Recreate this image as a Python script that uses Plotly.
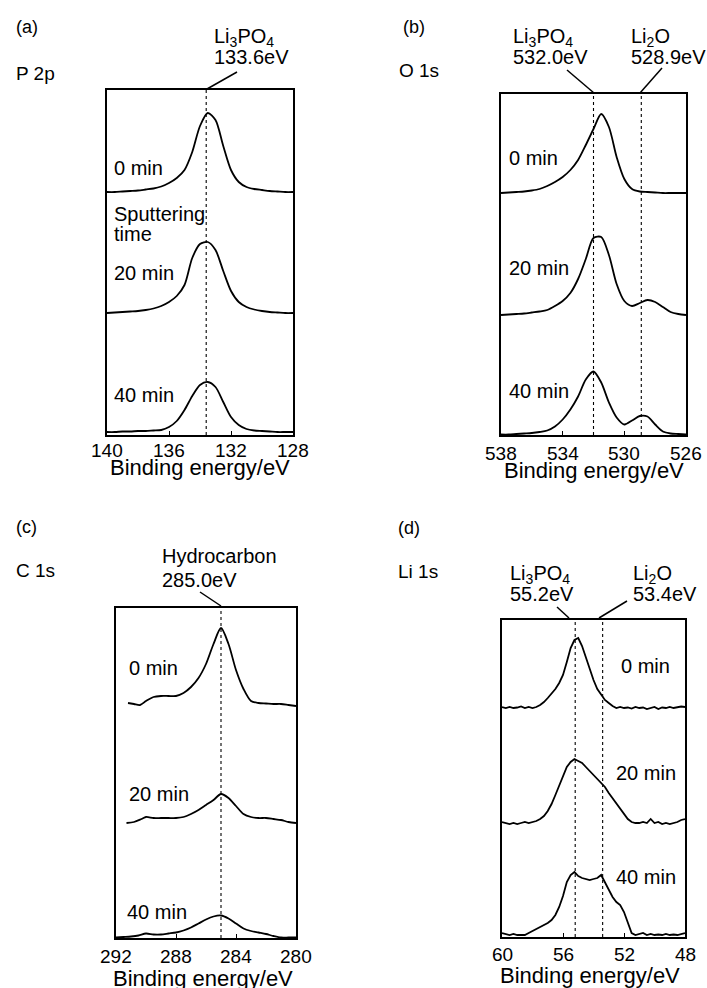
import plotly.graph_objects as go

W, H = 707, 988
FONT = "Liberation Sans, Arial, sans-serif"

# ---------------- data (intensity above each trace's own baseline, a.u.) ----------------
# (a) P 2p
p2p_energy = [140.0, 139.5, 139.0, 138.5, 138.0, 137.5, 137.0, 136.5, 136.0, 135.5, 135.0, 134.5, 134.0,
              133.5, 133.0, 132.5, 132.0, 131.5, 131.0, 130.5, 130.0, 129.5, 129.0, 128.5, 128.0]
p2p_0min = [0, 0, 0.5, 1, 1.5, 2.5, 3.5, 5.5, 9, 14, 22, 40, 66, 79, 72, 46, 22, 10, 5, 3, 2, 1, 0.5, 0, 0]
p2p_20min = [0, 0.5, 1, 1.5, 2, 3, 4.5, 7, 11, 17, 28, 55, 69, 71, 63, 42, 22, 11, 6, 3.5, 2, 1, 0.5, 0, 0]
p2p_40min = [0, 0, 0.5, 0.5, 1, 1, 1.5, 2, 5, 11, 22, 36, 47, 50, 45, 30, 15, 7, 3, 1.5, 1, 0.5, 0, 0, 0]

# (b) O 1s
o1s_energy = [538.0, 537.5, 537.0, 536.5, 536.0, 535.5, 535.0, 534.5, 534.0, 533.5, 533.0, 532.5, 532.0,
              531.5, 531.0, 530.5, 530.0, 529.5, 529.0, 528.5, 528.0, 527.5, 527.0, 526.5, 526.0]
o1s_0min = [0, 0.5, 1, 1.5, 2.5, 4, 7, 11, 16, 23, 33, 48, 64, 79, 66, 36, 14, 4, 1.5, 1, 0.5, 0, 0, 0, 0]
o1s_20min = [0, 0.5, 1, 1.5, 2.5, 3.5, 5, 9, 14, 22, 36, 56, 77, 78, 60, 31, 14, 9, 12, 15, 13, 8, 3, 1, 0]
o1s_40min = [0, 0, 0.5, 1, 1.5, 2.5, 4, 8, 15, 25, 38, 55, 63, 52, 32, 17, 10, 14, 18.5, 18, 10, 3, 1, 0.5, 0]

# (c) C 1s
c1s_0min_energy = [291.2, 290.8, 290.4, 290.0, 289.5, 289.0, 288.5, 288.0, 287.5, 287.0, 286.5, 286.0,
                   285.5, 285.0, 284.5, 284.0, 283.5, 283.0, 282.5, 282.0, 281.5, 281.0, 280.5, 280.0]
c1s_0min = [3, 2, 1, 5, 9, 10, 10, 10, 13, 19, 28, 42, 62, 78, 62, 36, 17, 5, 3, 2.5, 2, 2, 1, 0]
c1s_20min_energy = [291.3, 290.8, 290.3, 290.0, 289.5, 289.0, 288.5, 288.0, 287.5, 287.0, 286.5, 286.0,
                    285.5, 285.0, 284.5, 284.0, 283.5, 283.0, 282.5, 282.0, 281.5, 281.0, 280.5, 280.0]
c1s_20min = [0, 1, 4, 6, 5, 5, 5, 5, 6, 9, 13, 18, 23, 29, 25, 17, 9, 6, 5, 5, 4, 3, 1, 0]
c1s_40min_energy = [292.0, 291.5, 291.0, 290.5, 290.0, 289.5, 289.0, 288.5, 288.0, 287.5, 287.0, 286.5, 286.0,
                    285.5, 285.0, 284.5, 284.0, 283.5, 283.0, 282.5, 282.0, 281.5, 281.0, 280.5, 280.0]
c1s_40min = [0, 0.5, 1, 2, 4, 3, 3, 4, 5, 7, 10, 14, 18, 21, 22, 19, 14, 9, 6.5, 5, 3.5, 1.5, 0, 0, 0]

# (d) Li 1s
li1s_energy = [60.0, 59.75, 59.5, 59.25, 59.0, 58.75, 58.5, 58.25, 58.0, 57.75, 57.5, 57.25, 57.0, 56.75,
               56.5, 56.25, 56.0, 55.75, 55.5, 55.25, 55.0, 54.75, 54.5, 54.25, 54.0, 53.75, 53.5, 53.25,
               53.0, 52.75, 52.5, 52.25, 52.0, 51.75, 51.5, 51.25, 51.0, 50.75, 50.5, 50.25, 50.0, 49.75,
               49.5, 49.25, 49.0, 48.75, 48.5, 48.25, 48.0]
li1s_0min = [1, 0, 1, 0, 0.5, 1.5, 0, 1, 0, 1, 3, 6, 10, 14, 19, 25, 33, 46, 60, 68, 70, 62, 50, 38, 28,
             19, 13, 8, 5, 2, 0, 1, 0, 0.5, -0.5, 1, 0, 0.5, -1, 0, 1, -1, 0.5, 0, 1, 0, 0.5, 1.5, 1]
li1s_20min = [1, 0, -1, 0, -1, 0, 1, 0, 1, 2, 4, 7, 12, 19, 28, 38, 48, 56, 61, 64, 62, 60, 56, 52, 48,
              45, 41, 36, 30, 25, 20, 15, 10, 4, 1, 0, 0, 1, 0, 4, 0, 1, -1, 0, -1, 0, 1, 3, 4]
li1s_40min = [2, 1, 0, 1, 0, 0, 0, 2, 4, 6, 8, 10, 12, 15, 20, 28, 39, 53, 60, 63, 59, 57, 56, 55, 56,
              57, 60, 53, 46, 38, 33, 30, 23, 12, 2, 0, 1, 2, 0, 1, 0, 0.5, 0, 1, 0, 0.5, 0, 1, 2]

p2p_ticks = [140, 136, 132, 128]
o1s_ticks = [538, 534, 530, 526]
c1s_ticks = [292, 288, 284, 280]
li1s_ticks = [60, 56, 52, 48]

time_labels = ["0 min", "20 min", "40 min"]
axis_title = "Binding energy/eV"

# ---------------- layout helpers ----------------
def PX(x):
    return x / W

def PY(y):
    return 1 - y / H

fig = go.Figure()

panels = [
    dict(k="", xd=(107, 293), yd=(90, 435), xr=(140, 128), ticks=p2p_ticks, tly=450,
         offs=[243, 122, 3],
         spectra=[(p2p_energy, p2p_0min), (p2p_energy, p2p_20min), (p2p_energy, p2p_40min)],
         shape="spline", lines=[133.6]),
    dict(k="2", xd=(501, 686), yd=(94, 435), xr=(538, 526), ticks=o1s_ticks, tly=453,
         offs=[242, 120, 0.5],
         spectra=[(o1s_energy, o1s_0min), (o1s_energy, o1s_20min), (o1s_energy, o1s_40min)],
         shape="spline", lines=[532.0, 528.9]),
    dict(k="3", xd=(116, 296), yd=(608, 938), xr=(292, 280), ticks=c1s_ticks, tly=956,
         offs=[232, 115, 0.5],
         spectra=[(c1s_0min_energy, c1s_0min), (c1s_20min_energy, c1s_20min), (c1s_40min_energy, c1s_40min)],
         shape="spline", lines=[285.0]),
    dict(k="4", xd=(502, 685), yd=(620, 937), xr=(60, 48), ticks=li1s_ticks, tly=954,
         offs=[229, 114, 2],
         spectra=[(li1s_energy, li1s_0min), (li1s_energy, li1s_20min), (li1s_energy, li1s_40min)],
         shape="linear", lines=[55.2, 53.4]),
]

shapes = []
annots = []

def ann(text, x, y, xanchor="left", size=20):
    annots.append(dict(text=text, x=PX(x), y=PY(y), xref="paper", yref="paper",
                       xanchor=xanchor, yanchor="middle", showarrow=False,
                       font=dict(family=FONT, size=size, color="black")))

for p in panels:
    k = p["k"]
    hgt = p["yd"][1] - p["yd"][0]
    for (ex, ey), off in zip(p["spectra"], p["offs"]):
        fig.add_trace(go.Scatter(
            x=ex, y=[v + off for v in ey], mode="lines",
            line=dict(color="black", width=1.8, shape=p["shape"], smoothing=0.8),
            xaxis="x" + k, yaxis="y" + k, showlegend=False, hoverinfo="skip"))
    fig.layout["xaxis" + k] = dict(
        domain=[PX(p["xd"][0]), PX(p["xd"][1])], range=list(p["xr"]), anchor="y" + k,
        tickvals=p["ticks"], showticklabels=False,
        ticks="inside", ticklen=4, tickwidth=1, tickcolor="black",
        showline=True, linecolor="black", linewidth=1.5, mirror=True,
        showgrid=False, zeroline=False, fixedrange=True)
    fig.layout["yaxis" + k] = dict(
        domain=[PY(p["yd"][1]), PY(p["yd"][0])], range=[0, hgt], anchor="x" + k,
        showline=True, linecolor="black", linewidth=1.5, mirror=True,
        showticklabels=False, ticks="", showgrid=False, zeroline=False, fixedrange=True)
    for e in p["lines"]:
        shapes.append(dict(type="line", xref="x" + k, yref="y" + k + " domain",
                           x0=e, x1=e, y0=0, y1=1,
                           line=dict(color="black", width=1.1, dash="dot")))
    # tick labels placed on the data axis
    for t in p["ticks"]:
        annots.append(dict(text=str(t), x=t, xref="x" + k, y=PY(p["tly"]), yref="paper",
                           xanchor="center", yanchor="middle", showarrow=False,
                           font=dict(family=FONT, size=19, color="black")))

# leader lines (pixel positions of the callout strokes)
leaders = [
    ((207, 89), (237, 72)),
    ((594, 93), (567, 70)),
    ((640, 93), (662, 68)),
    ((221, 606), (200, 592)),
    ((569, 618), (557, 607)),
    ((599, 618), (627, 601)),
]
for (x0, y0), (x1, y1) in leaders:
    shapes.append(dict(type="line", xref="paper", yref="paper",
                       x0=PX(x0), y0=PY(y0), x1=PX(x1), y1=PY(y1),
                       line=dict(color="black", width=1.5)))

# panel letters and core levels
ann("(a)", 14, 27, size=18); ann("P 2p", 14, 74, size=19)
ann("(b)", 401, 27, size=18); ann("O 1s", 397, 71, size=19)
ann("(c)", 14, 527, size=18); ann("C 1s", 14, 570, size=19)
ann("(d)", 396, 528, size=18); ann("Li 1s", 396, 571, size=19)

# peak callouts
CS = 20
ann("Li<sub>3</sub>PO<sub>4</sub>", 212, 37, size=CS); ann("133.6eV", 212, 57.5, size=CS)
ann("Li<sub>3</sub>PO<sub>4</sub>", 511, 37, size=CS); ann("532.0eV", 511, 57.5, size=CS)
ann("Li<sub>2</sub>O", 629, 37, size=CS); ann("528.9eV", 629, 57.5, size=CS)
ann("Hydrocarbon", 160, 556, size=CS); ann("285.0eV", 160, 580, size=CS)
ann("Li<sub>3</sub>PO<sub>4</sub>", 508, 574, size=CS); ann("55.2eV", 508, 594, size=CS)
ann("Li<sub>2</sub>O", 631, 574, size=CS); ann("53.4eV", 631, 594, size=CS)

# sputtering time labels
TS = 20
ann(time_labels[0], 112, 168, size=TS)
ann("Sputtering", 112, 214, size=TS); ann("time", 112, 234, size=TS)
ann(time_labels[1], 112, 273, size=TS)
ann(time_labels[2], 112, 395, size=TS)
ann(time_labels[0], 507, 158, size=TS)
ann(time_labels[1], 507, 268, size=TS)
ann(time_labels[2], 507, 391, size=TS)
ann(time_labels[0], 127, 668, size=TS)
ann(time_labels[1], 127, 794, size=TS)
ann(time_labels[2], 125, 912, size=TS)
ann(time_labels[0], 619, 666, size=TS)
ann(time_labels[1], 614, 773, size=TS)
ann(time_labels[2], 614, 877, size=TS)

# axis titles
ann(axis_title, 200, 467, xanchor="center", size=22)
ann(axis_title, 594, 470, xanchor="center", size=22)
ann(axis_title, 203, 978, xanchor="center", size=22)
ann(axis_title, 590, 975, xanchor="center", size=22)

fig.update_layout(
    width=W, height=H, autosize=False,
    margin=dict(l=0, r=0, t=0, b=0, pad=0, autoexpand=False),
    paper_bgcolor="white", plot_bgcolor="white",
    shapes=shapes, annotations=annots, showlegend=False,
    font=dict(family=FONT, color="black"))

fig.write_html("out.html", config={"displayModeBar": False, "responsive": False},
               post_script="document.body.style.margin='0';document.body.style.overflow='hidden';")
